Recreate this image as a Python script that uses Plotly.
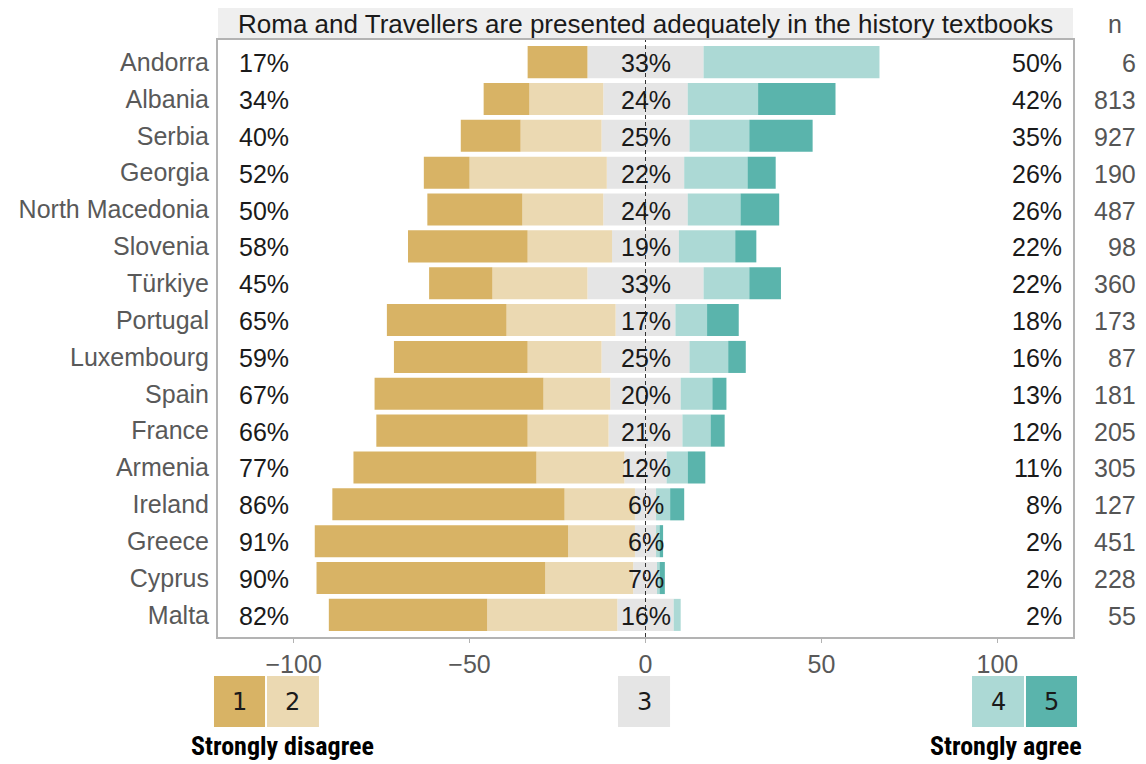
import plotly.graph_objects as go

countries = ["Andorra", "Albania", "Serbia", "Georgia", "North Macedonia", "Slovenia",
             "Türkiye", "Portugal", "Luxembourg", "Spain", "France", "Armenia",
             "Ireland", "Greece", "Cyprus", "Malta"]
cat1 = [17, 13, 17, 13, 27, 34, 18, 34, 38, 48, 43, 52, 66, 72, 65, 45]
cat2 = [0, 21, 23, 39, 23, 24, 27, 31, 21, 19, 23, 25, 20, 19, 25, 37]
cat3 = [33, 24, 25, 22, 24, 19, 33, 17, 25, 20, 21, 12, 6, 6, 7, 16]
cat4 = [50, 20, 17, 18, 15, 16, 13, 9, 11, 9, 8, 6, 4, 1, 0.5, 2]
cat5 = [0, 22, 18, 8, 11, 6, 9, 9, 5, 4, 4, 5, 4, 1, 1.5, 0]
n_resp = [6, 813, 927, 190, 487, 98, 360, 173, 87, 181, 205, 305, 127, 451, 228, 55]
tick_vals = [-100, -50, 0, 50, 100]
tick_text = ["\u2212100", "\u221250", "0", "50", "100"]
title_text = "Roma and Travellers are presented adequately in the history textbooks"

COL1, COL2, COL3, COL4, COL5 = "#d8b365", "#ebd9b2", "#e5e5e5", "#acd9d5", "#5ab4ac"
FONT = "Liberation Sans, Arial, sans-serif"

left_lbl = [f"{round(a + b)}%" for a, b in zip(cat1, cat2)]
mid_lbl = [f"{c}%" for c in cat3]
right_lbl = [f"{round(a + b)}%" for a, b in zip(cat4, cat5)]

fig = go.Figure()
W = 0.87
def bar(vals, color):
    fig.add_trace(go.Bar(y=countries, x=vals, orientation="h", width=W,
                         marker=dict(color=color, line=dict(width=0)),
                         showlegend=False, hoverinfo="skip"))

# negative side (first trace nearest zero)
bar([-c / 2 for c in cat3], COL3)
bar([-v for v in cat2], COL2)
bar([-v for v in cat1], COL1)
# positive side
bar([c / 2 for c in cat3], COL3)
bar(cat4, COL4)
bar(cat5, COL5)

annotations = []
txt_font = dict(family=FONT, size=25, color="#1a1a1a")
for c, l, m, r in zip(countries, left_lbl, mid_lbl, right_lbl):
    annotations.append(dict(x=-116.0, y=c, xref="x", yref="y", text=l, showarrow=False,
                            xanchor="left", yanchor="middle", yshift=-1, font=txt_font))
    annotations.append(dict(x=0, y=c, xref="x", yref="y", text=m, showarrow=False,
                            xanchor="center", yanchor="middle", yshift=-1, font=txt_font))
    annotations.append(dict(x=119.0, y=c, xref="x", yref="y", text=r, showarrow=False,
                            xanchor="right", yanchor="middle", yshift=-1, font=txt_font))

# n column (outside the axis range -> paper x)
for c, n in zip(countries, n_resp):
    annotations.append(dict(x=1.0760, y=c, xref="paper", yref="y", text=str(n), showarrow=False,
                            xanchor="right", yanchor="middle", yshift=-1,
                            font=dict(family=FONT, size=25, color="#555555")))
annotations.append(dict(x=1.0491, y=1.027, xref="paper", yref="paper", text="n", showarrow=False,
                        xanchor="center", yanchor="middle",
                        font=dict(family=FONT, size=25, color="#555555")))
# strip title
annotations.append(dict(x=0.5, y=1.027, xref="paper", yref="paper", text=title_text,
                        showarrow=False, xanchor="center", yanchor="middle",
                        font=dict(family=FONT, size=26, color="#1a1a1a")))

shapes = [
    dict(type="rect", xref="paper", yref="paper", x0=0, x1=1, y0=1.0, y1=1.0536,
         fillcolor="#efefef", line=dict(width=0), layer="below"),
    dict(type="line", xref="x", yref="paper", x0=0, x1=0, y0=0, y1=1,
         line=dict(color="#333333", width=1, dash="4px,3px"), layer="above"),
]

# legend key boxes (paper coords)
keys = [("1", COL1, -0.0047, 0.0550), ("2", COL2, 0.0573, 0.1181),
        ("3", COL3, 0.4678, 0.5287), ("4", COL4, 0.8819, 0.9427), ("5", COL5, 0.9450, 1.0047)]
ky0, ky1 = -0.1508, -0.0653
for lab, col, x0, x1 in keys:
    shapes.append(dict(type="rect", xref="paper", yref="paper", x0=x0, x1=x1, y0=ky0, y1=ky1,
                       fillcolor=col, line=dict(width=0)))
    annotations.append(dict(x=(x0 + x1) / 2, y=(ky0 + ky1) / 2, xref="paper", yref="paper",
                            text=lab, showarrow=False, xanchor="center", yanchor="middle",
                            font=dict(family="DejaVu Sans, sans-serif", size=24, color="#1a1a1a")))

BOLD = "Liberation Sans Narrow, Roboto Condensed, Arial Narrow, Roboto, sans-serif"
annotations.append(dict(x=0.0749, y=-0.1826, xref="paper", yref="paper",
                        text="<b>Strongly disagree</b>", showarrow=False, xanchor="center",
                        yanchor="middle", font=dict(family=BOLD, size=26, color="#000000")))
annotations.append(dict(x=0.9216, y=-0.1826, xref="paper", yref="paper",
                        text="<b>Strongly agree</b>", showarrow=False, xanchor="center",
                        yanchor="middle", font=dict(family=BOLD, size=26, color="#000000")))

# page body has an 8px margin, so the figure is sized/offset to compensate
fig.update_layout(
    width=1138, height=756,
    margin=dict(l=210, r=73, t=32, b=127, autoexpand=False),
    barmode="relative",
    plot_bgcolor="white", paper_bgcolor="white",
    font=dict(family=FONT),
    shapes=shapes, annotations=annotations,
    xaxis=dict(range=[-121.5, 121.5], tickvals=tick_vals, ticktext=tick_text,
               showgrid=False, zeroline=False, showline=True, mirror=True, automargin=False,
               linecolor="#b3b3b3", linewidth=2, ticks="outside", ticklen=4,
               tickcolor="#b3b3b3", tickfont=dict(family=FONT, size=25, color="#595959")),
    yaxis=dict(categoryorder="array", categoryarray=countries, range=[15.6, -0.6],
               showgrid=False, zeroline=False, showline=True, mirror=True, automargin=False,
               linecolor="#b3b3b3", linewidth=2, ticks="outside", ticklen=2,
               tickcolor="rgba(0,0,0,0)",
               tickfont=dict(family=FONT, size=25, color="#595959")),
)

fig.write_html("out.html")
